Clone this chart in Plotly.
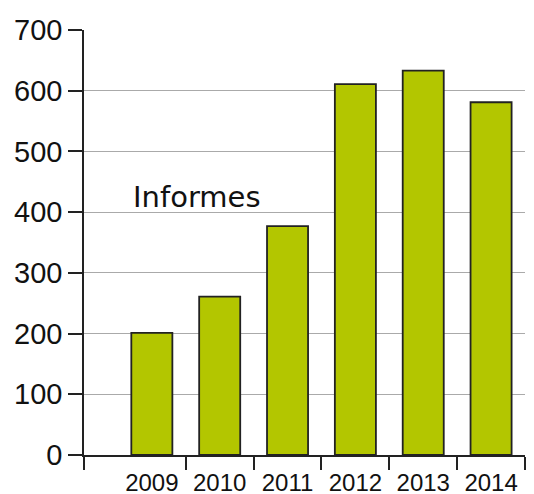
import plotly.graph_objects as go

years = ["2009", "2010", "2011", "2012", "2013", "2014"]
values = [201, 261, 377, 611, 633, 581]
y_ticks = [0, 100, 200, 300, 400, 500, 600, 700]
label_text = "Informes"

x_pos = list(range(len(years)))
boundaries = [-1] + [i + 0.5 for i in x_pos]

fig = go.Figure()
fig.add_trace(go.Bar(
    x=x_pos, y=values, width=0.605,
    marker=dict(color="#b3c600", line=dict(color="#222222", width=1.8)),
    hoverinfo="skip",
))

fig.update_layout(
    width=534, height=494,
    margin=dict(l=76, r=17, t=22, b=47),
    paper_bgcolor="white", plot_bgcolor="white",
    showlegend=False,
    font=dict(family="Liberation Sans, Arial, sans-serif", color="#111111"),
)
fig.update_xaxes(
    range=[-1, 5.5], automargin=False,
    tickmode="array", tickvals=x_pos, ticktext=years,
    ticks="", showgrid=False, zeroline=False, ticklabelstandoff=5,
    showline=True, linecolor="#222222", linewidth=1.5,
    tickfont=dict(size=24, family="Liberation Sans, Arial, sans-serif"),
    minor=dict(tickmode="array", tickvals=boundaries, ticks="outside",
               ticklen=13, tickwidth=1.5, tickcolor="#222222", showgrid=False),
)
fig.update_yaxes(
    range=[0, 700], automargin=False,
    tickmode="array", tickvals=y_ticks,
    ticks="outside", ticklen=14, tickwidth=1.5, tickcolor="#222222",
    showline=True, linecolor="#222222", linewidth=1.5,
    showgrid=True, gridcolor="#aaaaaa", gridwidth=1,
    zeroline=False,
    tickfont=dict(size=29, family="Liberation Sans, Arial, sans-serif"),
)
fig.add_annotation(
    x=0.67, y=425, xref="x", yref="y", text=label_text, showarrow=False,
    font=dict(size=29, family="DejaVu Sans, sans-serif", color="#111111"),
)

fig.write_html("out.html")
